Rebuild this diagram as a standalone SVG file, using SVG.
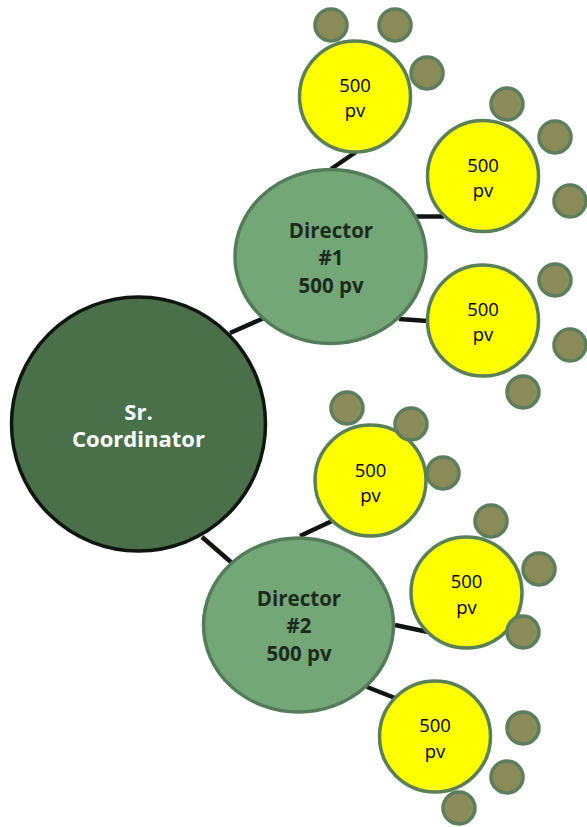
<svg xmlns="http://www.w3.org/2000/svg" width="587" height="827" viewBox="0 0 587 827">
<style>
.conn{stroke:#111511;stroke-width:4.5;stroke-linecap:butt}
.root{fill:#4a7049;stroke:#0f150f;stroke-width:3.5}
.dir{fill:#73a777;stroke:#537d58;stroke-width:3.5}
.leaf{fill:#ffff00;stroke:#5a8058;stroke-width:3.5}
.sm{fill:#8b8b5a;stroke:#5b7f5b;stroke-width:3.5}
text{font-family:"Open Sans","Noto Sans",sans-serif;text-anchor:middle}
.rt{fill:#ffffff;font-weight:bold;font-size:22px}
.dt{fill:#1c2b1c;font-weight:bold;font-size:20.5px}
.lt{fill:#000000;font-size:18.5px}
</style>
<rect width="587" height="827" fill="#ffffff"/>
<g id="connectors">
<line class="conn" x1="230" y1="333" x2="264" y2="318"/>
<line class="conn" x1="331" y1="169" x2="356" y2="152"/>
<line class="conn" x1="411" y1="216.5" x2="444" y2="216.5"/>
<line class="conn" x1="399" y1="319" x2="428" y2="321"/>
<line class="conn" x1="202" y1="537" x2="232" y2="563"/>
<line class="conn" x1="300" y1="536" x2="332" y2="521"/>
<line class="conn" x1="395" y1="625" x2="428" y2="632"/>
<line class="conn" x1="367" y1="687" x2="395" y2="698"/>
</g>
<g id="sr-coordinator">
<circle class="root" cx="138.5" cy="424" r="127"/>
<text class="rt" x="138.5" y="420">Sr.</text>
<text class="rt" x="138.5" y="447">Coordinator</text>
</g>
<g id="director-1">
<ellipse class="dir" cx="330.5" cy="256.5" rx="95.5" ry="87"/>
<text class="dt" x="331" y="237.5">Director</text>
<text class="dt" x="331" y="265">#1</text>
<text class="dt" x="331" y="292.5">500 pv</text>
</g>
<g id="director-2">
<ellipse class="dir" cx="298.5" cy="625" rx="95" ry="87"/>
<text class="dt" x="299" y="605.5">Director</text>
<text class="dt" x="299" y="633">#2</text>
<text class="dt" x="299" y="660.5">500 pv</text>
</g>
<g id="member-1a">
<circle class="leaf" cx="355" cy="96.5" r="55.5"/>
<text class="lt" x="355" y="92">500</text>
<text class="lt" x="355" y="117">pv</text>
<circle class="sm" cx="331" cy="25" r="16"/>
<circle class="sm" cx="395" cy="25" r="16"/>
<circle class="sm" cx="427" cy="73" r="16"/>
</g>
<g id="member-1b">
<circle class="leaf" cx="483" cy="176" r="55.5"/>
<text class="lt" x="483" y="171.5">500</text>
<text class="lt" x="483" y="196.5">pv</text>
<circle class="sm" cx="507" cy="104" r="16"/>
<circle class="sm" cx="555" cy="137" r="16"/>
<circle class="sm" cx="570" cy="201" r="16"/>
</g>
<g id="member-1c">
<circle class="leaf" cx="483" cy="320.5" r="55.5"/>
<text class="lt" x="483" y="316">500</text>
<text class="lt" x="483" y="341">pv</text>
<circle class="sm" cx="555" cy="280" r="16"/>
<circle class="sm" cx="570" cy="345" r="16"/>
<circle class="sm" cx="523" cy="392" r="16"/>
</g>
<g id="member-2a">
<circle class="leaf" cx="370.5" cy="480.5" r="55.5"/>
<text class="lt" x="370.5" y="476.5">500</text>
<text class="lt" x="370.5" y="501.5">pv</text>
<circle class="sm" cx="347" cy="408" r="16"/>
<circle class="sm" cx="411" cy="424" r="16"/>
<circle class="sm" cx="443" cy="473" r="16"/>
</g>
<g id="member-2b">
<circle class="leaf" cx="466.5" cy="592.5" r="55.5"/>
<text class="lt" x="466.5" y="588">500</text>
<text class="lt" x="466.5" y="613.5">pv</text>
<circle class="sm" cx="491" cy="521" r="16"/>
<circle class="sm" cx="539" cy="569" r="16"/>
<circle class="sm" cx="523" cy="632" r="16"/>
</g>
<g id="member-2c">
<circle class="leaf" cx="435" cy="736.5" r="55.5"/>
<text class="lt" x="435" y="732">500</text>
<text class="lt" x="435" y="757.5">pv</text>
<circle class="sm" cx="523" cy="728" r="16"/>
<circle class="sm" cx="507" cy="777" r="16"/>
<circle class="sm" cx="459" cy="808" r="16"/>
</g>
</svg>
